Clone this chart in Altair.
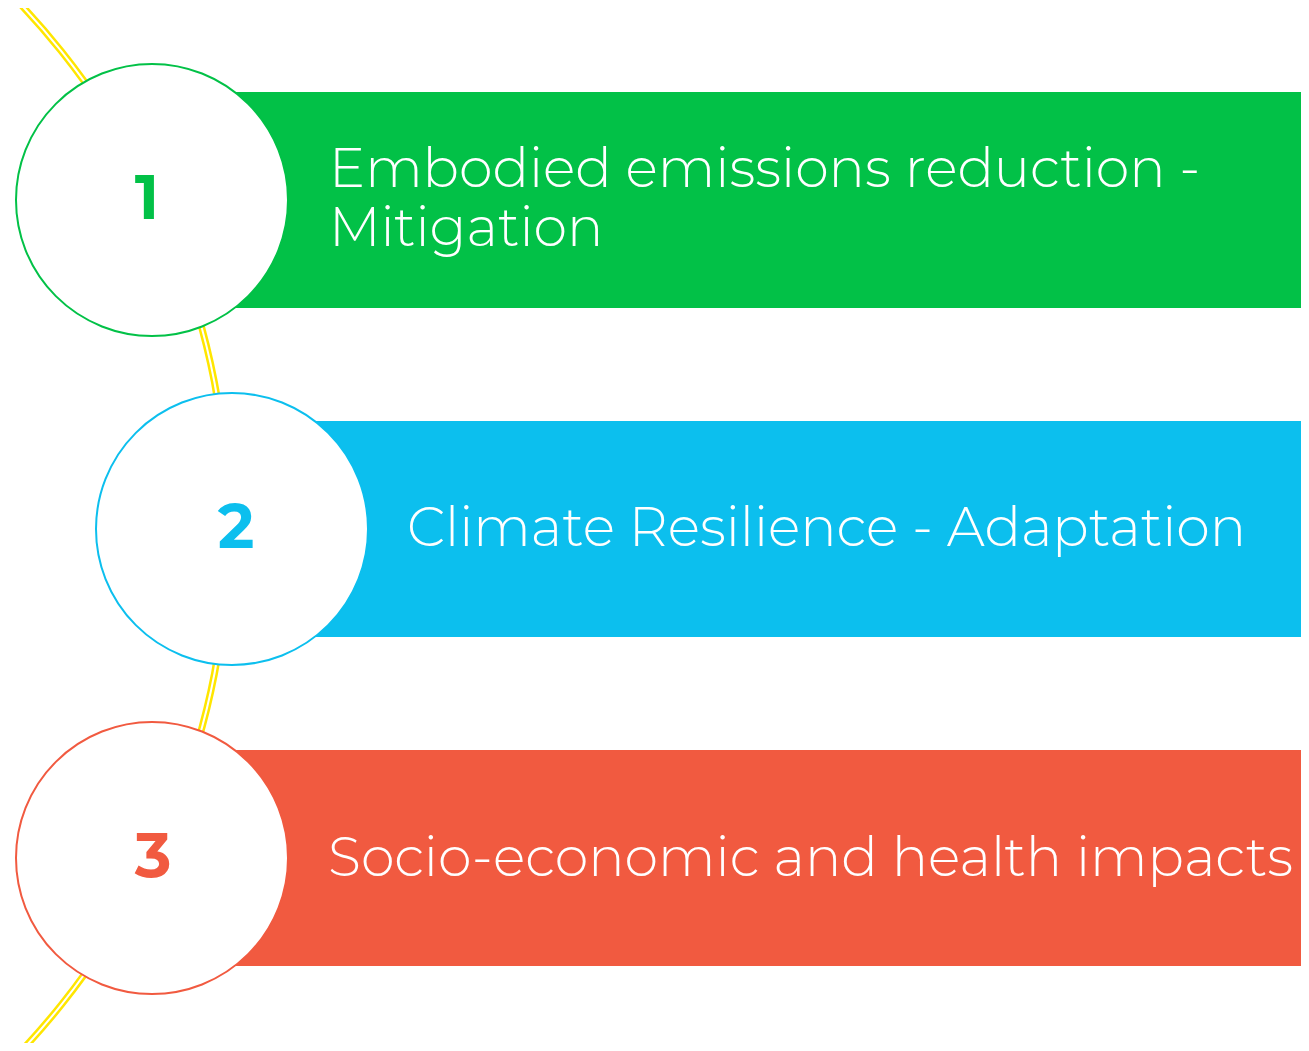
import altair as alt
import pandas as pd

# ---- data ----
numbers = ["1", "2", "3"]
labels = ["Embodied emissions reduction -\nMitigation",
          "Climate Resilience - Adaptation",
          "Socio-economic and health impacts"]
colors = ["#02C147", "#0CBFEE", "#F15A40"]
circle_x = [152, 232, 152]
circle_y = [200, 529, 858]
bar_x0 = [152, 232, 152]
bar_x1 = [1309, 1309, 1309]
bar_y0 = [92, 421, 750]
bar_y1 = [308, 637, 966]
label_x = [329, 407, 328]
label_y = [187, 546, 876]
num_x = [147, 236, 153]

arc_cx = [-535]
arc_cy = [528]

df = pd.DataFrame({
    "num": numbers, "label": labels, "color": colors,
    "cx": circle_x, "cy": circle_y,
    "bx0": bar_x0, "bx1": bar_x1, "by0": bar_y0, "by1": bar_y1,
    "lx": label_x, "ly": label_y, "nx": num_x,
})
arc_df = pd.DataFrame({"ax": arc_cx, "ay": arc_cy})

W, H = 1293, 1035
xs = alt.Scale(domain=[8, 8 + W], nice=False, zero=False)
ys = alt.Scale(domain=[8, 8 + H], nice=False, zero=False, reverse=True)

def X(f):
    return alt.X(f, type="quantitative", scale=xs, axis=None)

def Y(f):
    return alt.Y(f, type="quantitative", scale=ys, axis=None)

color_enc = alt.Color("color:N", scale=None, legend=None)

arc_outer = alt.Chart(arc_df).mark_arc(
    theta=0.80, theta2=2.34, outerRadius=767, innerRadius=760,
    color="#FFE600", clip=True
).encode(x=X("ax"), y=Y("ay"))

arc_inner = alt.Chart(arc_df).mark_arc(
    theta=0.80, theta2=2.34, outerRadius=764.5, innerRadius=762.5,
    color="white", clip=True
).encode(x=X("ax"), y=Y("ay"))

bars = alt.Chart(df).mark_rect(clip=True).encode(
    x=X("bx0"), x2="bx1", y=Y("by0"), y2="by1", color=color_enc
)

circles = alt.Chart(df).mark_point(
    shape="circle", filled=False, fill="white", fillOpacity=1,
    strokeWidth=2, size=73984, opacity=1
).encode(x=X("cx"), y=Y("cy"), stroke=alt.Stroke("color:N", scale=None, legend=None))

nums = alt.Chart(df).mark_text(
    font="Montserrat, Open Sans", fontWeight="bold", fontSize=62,
    align="center", baseline="middle"
).encode(x=X("nx"), y=Y("cy"), text="num:N", color=color_enc)

texts = alt.Chart(df).mark_text(
    font="Montserrat, Open Sans", fontWeight=300, fontSize=54,
    align="left", baseline="alphabetic", color="white",
    lineBreak="\n", lineHeight=59
).encode(x=X("lx"), y=Y("ly"), text="label:N")

chart = alt.layer(arc_outer, arc_inner, bars, circles, nums, texts).properties(
    width=W, height=H, padding=0,
    autosize=alt.AutoSizeParams(type="fit", contains="padding")
).configure_view(stroke=None)

chart.save("out.html", embed_options={"renderer": "svg", "actions": False})
